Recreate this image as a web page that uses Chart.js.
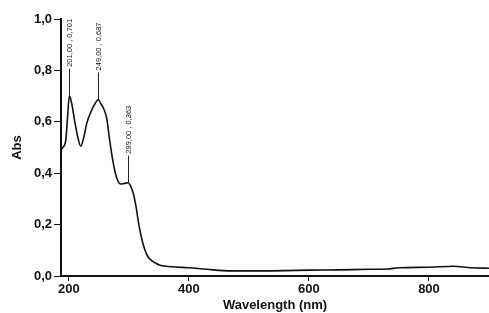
<!DOCTYPE html>
<html>
<head>
<meta charset="utf-8">
<script src="https://cdn.jsdelivr.net/npm/chart.js@4.4.1/dist/chart.umd.min.js"></script>
<style>
    body { margin: 0; background: #fff; }
    #wrap { width: 489px; height: 313px; }
</style>
</head>
<body>
<div id="wrap"><canvas id="myChart"></canvas></div>
<script>
// spectrum
const wavelengths = [187, 190, 195, 198, 201, 205, 210, 215, 220, 225, 230, 238, 244, 249, 253, 258, 263, 268, 274, 280, 286, 292, 299, 303, 307, 312, 317, 322, 327, 332, 338, 345, 352, 370, 400, 430, 470, 520, 560, 600, 650, 700, 730, 750, 800, 840, 870, 900];
const absValues = [0.49, 0.50, 0.53, 0.62, 0.701, 0.67, 0.60, 0.54, 0.505, 0.54, 0.595, 0.645, 0.672, 0.687, 0.672, 0.652, 0.615, 0.53, 0.44, 0.38, 0.358, 0.36, 0.363, 0.35, 0.325, 0.27, 0.195, 0.14, 0.10, 0.075, 0.06, 0.05, 0.042, 0.036, 0.032, 0.026, 0.02, 0.02, 0.021, 0.023, 0.024, 0.026, 0.027, 0.032, 0.034, 0.038, 0.032, 0.03];

const peakX = [201, 249, 299];
const peakY = [0.701, 0.687, 0.363];
const peakLabels = ['201,00 , 0,701', '249,00 , 0,687', '299,00 , 0,363'];

const xTicks = [200, 400, 600, 800];
const yTicks = [0, 0.2, 0.4, 0.6, 0.8, 1.0];

const peakMarks = {
    id: 'peakMarks',
    afterDatasetsDraw(chart) {
        const ctx = chart.ctx;
        const xs = chart.scales.x;
        const ys = chart.scales.y;
        ctx.save();
        ctx.strokeStyle = '#222';
        ctx.fillStyle = '#111';
        ctx.lineWidth = 1;
        ctx.font = '7.5px "Liberation Sans", Arial, sans-serif';
        peakX.forEach(function (v, i) {
            const px = Math.round(xs.getPixelForValue(v)) + 0.5;
            const py = ys.getPixelForValue(peakY[i]);
            const top = py - 27;
            ctx.beginPath();
            ctx.moveTo(px, py);
            ctx.lineTo(px, top);
            ctx.stroke();
            ctx.save();
            ctx.translate(px, top - 2);
            ctx.rotate(-Math.PI / 2);
            ctx.textAlign = 'left';
            ctx.textBaseline = 'middle';
            ctx.fillText(peakLabels[i], 0, 0);
            ctx.restore();
        });
        ctx.restore();
    }
};

const ctx = document.getElementById('myChart');

const myChart = new Chart(ctx, {
    type: 'line',
    data: {
        datasets: [{
            data: wavelengths.map((w, i) => ({ x: w, y: absValues[i] })),
            borderColor: '#111',
            borderWidth: 1.6,
            pointRadius: 0,
            cubicInterpolationMode: 'monotone',
            fill: false
        }]
    },
    options: {
        responsive: true,
        maintainAspectRatio: false,
        animation: false,
        layout: { padding: { top: 19, right: 0, left: 0, bottom: 0 } },
        plugins: {
            legend: { display: false },
            tooltip: { enabled: false }
        },
        scales: {
            x: {
                type: 'linear',
                min: 187,
                max: 900,
                afterBuildTicks: function (axis) {
                    axis.ticks = xTicks.map(v => ({ value: v }));
                },
                afterFit: function (axis) { axis.height = 37; },
                grid: { display: true, drawOnChartArea: false, drawTicks: true, tickLength: 5, color: '#111', lineWidth: 1 },
                border: { display: true, color: '#111', width: 2 },
                ticks: {
                    color: '#111',
                    padding: 1,
                    maxRotation: 0,
                    font: { family: '"Liberation Sans", Arial, sans-serif', size: 13, weight: 'bold' }
                },
                title: {
                    display: true,
                    text: 'Wavelength (nm)',
                    color: '#111',
                    padding: { top: -3, bottom: 0 },
                    font: { family: '"Liberation Sans", Arial, sans-serif', size: 13, weight: 'bold' }
                }
            },
            y: {
                min: 0,
                max: 1,
                afterBuildTicks: function (axis) {
                    axis.ticks = yTicks.map(v => ({ value: v }));
                },
                afterFit: function (axis) { axis.width = 61; },
                grid: { display: true, drawOnChartArea: false, drawTicks: true, tickLength: 7, color: '#111', lineWidth: 1 },
                border: { display: true, color: '#111', width: 2 },
                ticks: {
                    color: '#111',
                    padding: 2,
                    callback: v => v.toFixed(1).replace('.', ','),
                    font: { family: '"Liberation Sans", Arial, sans-serif', size: 13, weight: 'bold' }
                },
                title: {
                    display: true,
                    text: 'Abs',
                    color: '#111',
                    padding: { top: 10, bottom: 2 },
                    font: { family: '"Liberation Sans", Arial, sans-serif', size: 13, weight: 'bold' }
                }
            }
        }
    },
    plugins: [peakMarks]
});
</script>
</body>
</html>
